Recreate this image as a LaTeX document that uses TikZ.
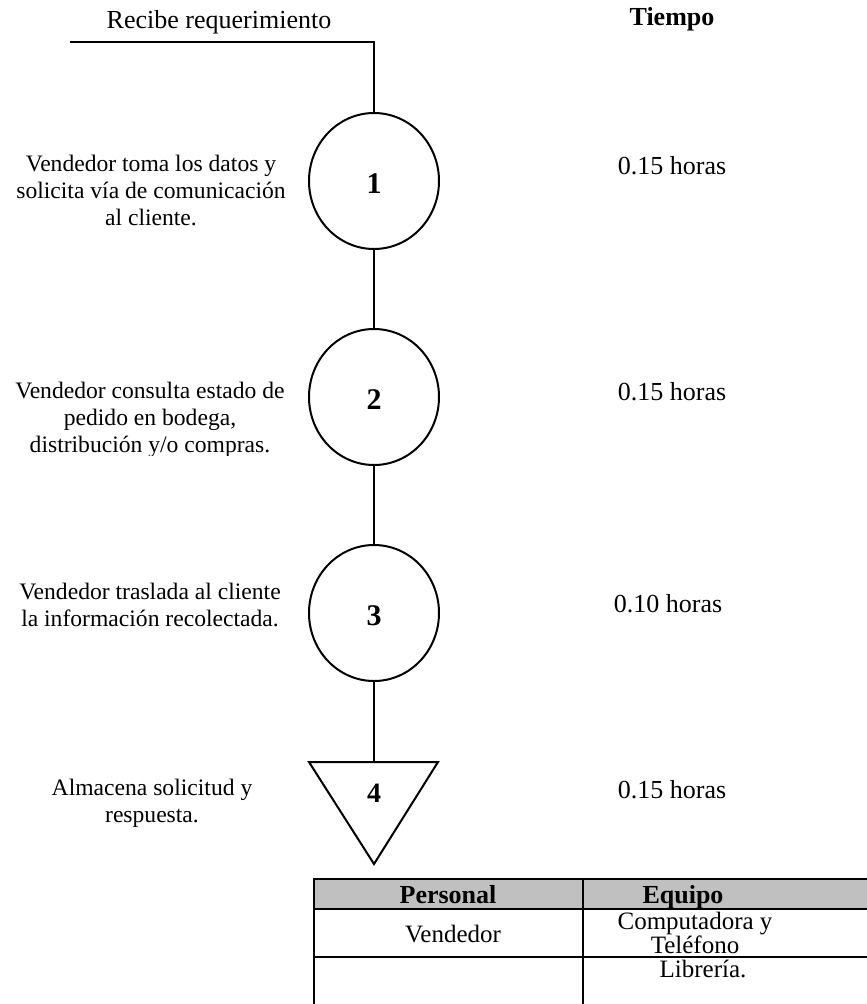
\documentclass[tikz,border=0pt]{standalone}
\usepackage{fontspec}
\setmainfont{Liberation Serif}
\usetikzlibrary{shapes.geometric}
\definecolor{hdrgray}{RGB}{192,192,192}
\begin{document}
\begin{tikzpicture}[x=1pt,y=-1pt,
  flow/.style={line width=2pt},
  opcircle/.style={draw,ellipse,line width=2pt,minimum width=130pt,
    minimum height=136pt,inner sep=0pt},
  opnum/.style={font=\fontsize{30}{32}\selectfont\bfseries},
  desc/.style={align=center,font=\fontsize{23.6}{27}\selectfont,anchor=base},
  timetxt/.style={font=\fontsize{26}{30}\selectfont,anchor=base},
  cell/.style={font=\fontsize{25}{24}\selectfont,anchor=base,align=center},
  hcell/.style={font=\fontsize{26}{30}\selectfont\bfseries,anchor=base},
  grid/.style={line width=2pt}]
\useasboundingbox (0,0) rectangle (867,1004);

% headings
\node[timetxt] (recibe) at (219,28) {Recibe requerimiento};
\node[hcell] (tiempo) at (672,25) {Tiempo};

% operations
\node[opcircle] (c1) at (374,181) {};
\node[opcircle] (c2) at (374,397) {};
\node[opcircle] (c3) at (374,613) {};
\node[opnum] (n1) at (374,184) {1};
\node[opnum] (n2) at (374,400) {2};
\node[opnum] (n3) at (374,616) {3};

% storage
\coordinate (t4) at (374,762);
\draw[flow,line join=miter] (309,762) -- (438,762) -- (374,864) -- cycle;
\node[opnum,font=\fontsize{28}{30}\selectfont\bfseries] (n4) at (374,793) {4};

% flow line
\coordinate (start) at (70,42);
\coordinate (bend) at (374,42);
\draw[flow] (start) -- (bend) -- (c1.north);
\draw[flow] (c1.south) -- (c2.north);
\draw[flow] (c2.south) -- (c3.north);
\draw[flow] (c3.south) -- (t4);

% descriptions (anchored on the baseline of the last line)
\node[desc] (d1) at (151,225) {Vendedor toma los datos y\\solicita vía de comunicación\\al cliente.};
\begin{scope}
  \clip (0,300) rectangle (305,455);
  \node[desc] (d2) at (150,452) {Vendedor consulta estado de\\pedido en bodega,\\distribución y/o compras.};
\end{scope}
\node[desc] (d3) at (150,626) {Vendedor traslada al cliente\\la información recolectada.};
\node[desc] (d4) at (152,822) {Almacena solicitud y\\respuesta.};

% times
\node[timetxt] (h1) at (672,174) {0.15 horas};
\node[timetxt] (h2) at (672,400) {0.15 horas};
\node[timetxt] (h3) at (668,612) {0.10 horas};
\node[timetxt] (h4) at (672,798) {0.15 horas};

% resources table
\fill[hdrgray] (314,879) rectangle (880,909);
\draw[grid] (314,1030) -- (314,879) -- (880,879);
\draw[grid] (314,909) -- (880,909);
\draw[grid] (314,957) -- (880,957);
\draw[grid] (583,879) -- (583,1030);
\node[hcell] (personal) at (448,903) {Personal};
\node[hcell] (equipo) at (683,903) {Equipo};
\node[cell] (vend) at (453,942) {Vendedor};
\node[cell] (equip1) at (695,953) {Computadora y\\Teléfono};
\node[cell] (equip2) at (703,977) {Librería.};
\end{tikzpicture}
\end{document}
